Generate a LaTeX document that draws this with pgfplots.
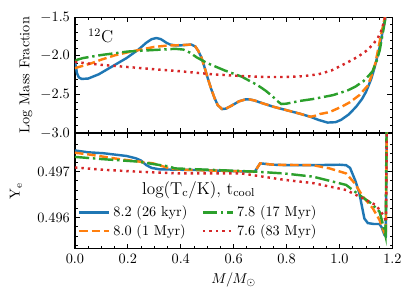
\documentclass[border=0pt]{standalone}
\usepackage{pgfplots}
\pgfplotsset{compat=1.18}
\definecolor{tabblue}{HTML}{1F77B4}
\definecolor{taborange}{HTML}{FF7F0E}
\definecolor{tabgreen}{HTML}{2CA02C}
\definecolor{tabred}{HTML}{D62728}
\pgfplotsset{
  s82/.style={tabblue, line width=1.7pt, solid},
  s80/.style={taborange, line width=1.7pt, dash pattern=on 6pt off 2.6pt},
  s78/.style={tabgreen, line width=1.7pt, dash pattern=on 10pt off 2.6pt on 1.7pt off 2.6pt},
  s76/.style={tabred, line width=1.7pt, dash pattern=on 1.7pt off 2.8pt},
  myax/.style={
    scale only axis, width=222pt, height=81pt,
    xmin=0, xmax=1.2,
    tick align=inside,
    xtick={0,0.2,0.4,0.6,0.8,1.0,1.2},
    minor xtick={0.05,0.1,0.15,0.25,0.3,0.35,0.45,0.5,0.55,0.65,0.7,0.75,0.85,0.9,0.95,1.05,1.1,1.15},
    major tick length=3.5pt, minor tick length=2pt,
    every tick/.style={black, line width=0.6pt},
    axis line style={line width=0.8pt},
    xticklabel style={/pgf/number format/fixed, /pgf/number format/fixed zerofill, /pgf/number format/precision=1},
    scaled x ticks=false, scaled y ticks=false,
    no markers,
  }
}
\begin{document}
\begin{tikzpicture}
\path[use as bounding box] (-52.4pt,-120.3pt) rectangle (238.5pt,93pt);
% ---------------- top panel
\begin{axis}[myax, at={(0pt,0pt)}, anchor=south west,
  ymin=-3, ymax=-1.5,
  ytick={-3,-2.5,-2,-1.5},
  minor ytick={-2.9,-2.8,-2.7,-2.6,-2.4,-2.3,-2.2,-2.1,-1.9,-1.8,-1.7,-1.6},
  xticklabels=\empty,
  yticklabel style={/pgf/number format/fixed, /pgf/number format/fixed zerofill, /pgf/number format/precision=1},
  ylabel={Log Mass Fraction},
  ylabel style={at={(axis description cs:-0.154,0.5)}, anchor=center},
]
\addplot[s82] coordinates {
(0.000,-2.08) (0.004,-2.15) (0.008,-2.23) (0.015,-2.28) (0.025,-2.30) (0.05,-2.295)
(0.09,-2.24) (0.14,-2.14) (0.195,-2.03) (0.24,-1.92) (0.27,-1.83) (0.29,-1.785)
(0.308,-1.77) (0.325,-1.785) (0.345,-1.83) (0.36,-1.855) (0.38,-1.865) (0.40,-1.865)
(0.42,-1.86) (0.44,-1.855) (0.455,-1.88) (0.465,-1.93) (0.478,-2.02) (0.49,-2.15)
(0.502,-2.29) (0.515,-2.43) (0.528,-2.55) (0.54,-2.64) (0.556,-2.69) (0.57,-2.685)
(0.59,-2.65) (0.62,-2.59) (0.645,-2.565) (0.66,-2.565) (0.68,-2.58) (0.70,-2.605)
(0.75,-2.66) (0.80,-2.705) (0.85,-2.75) (0.89,-2.79) (0.92,-2.83) (0.955,-2.865)
(0.985,-2.86) (1.006,-2.83) (1.035,-2.76) (1.063,-2.66) (1.085,-2.56) (1.10,-2.47)
(1.12,-2.30) (1.132,-2.16) (1.151,-1.90) (1.165,-1.65) (1.176,-1.45)
};
\addplot[s80] coordinates {
(0.000,-2.16) (0.03,-2.13) (0.06,-2.10) (0.10,-2.05) (0.15,-1.995) (0.20,-1.955)
(0.25,-1.92) (0.30,-1.885) (0.35,-1.868) (0.40,-1.862) (0.44,-1.855) (0.455,-1.88)
(0.465,-1.93) (0.478,-2.02) (0.49,-2.15) (0.502,-2.29) (0.515,-2.43) (0.528,-2.55)
(0.54,-2.64) (0.556,-2.69) (0.57,-2.685) (0.59,-2.65) (0.62,-2.59) (0.645,-2.565)
(0.66,-2.565) (0.68,-2.58) (0.70,-2.605) (0.75,-2.66) (0.80,-2.705) (0.85,-2.75)
(0.89,-2.79) (0.905,-2.78) (0.925,-2.755) (0.962,-2.73) (1.011,-2.655) (1.04,-2.60)
(1.075,-2.51) (1.106,-2.39) (1.12,-2.27) (1.136,-2.09) (1.16,-1.68) (1.175,-1.45)
};
\addplot[s78] coordinates {
(0.000,-2.07) (0.01,-2.05) (0.03,-2.03) (0.10,-1.99) (0.20,-1.945) (0.30,-1.925)
(0.38,-1.91) (0.41,-1.92) (0.435,-1.96) (0.46,-2.02) (0.50,-2.095) (0.566,-2.19)
(0.63,-2.27) (0.69,-2.38) (0.72,-2.45) (0.745,-2.52) (0.77,-2.60) (0.78,-2.625)
(0.80,-2.62) (0.85,-2.585) (0.90,-2.56) (0.975,-2.51) (1.03,-2.45) (1.06,-2.40)
(1.09,-2.33) (1.115,-2.24) (1.125,-2.20) (1.14,-2.07) (1.152,-1.93) (1.165,-1.68)
(1.177,-1.45)
};
\addplot[s76] coordinates {
(0.000,-2.08) (0.05,-2.10) (0.107,-2.12) (0.233,-2.155) (0.30,-2.175) (0.396,-2.20)
(0.52,-2.24) (0.64,-2.265) (0.72,-2.275) (0.79,-2.275) (0.86,-2.265) (0.92,-2.24)
(0.97,-2.19) (1.011,-2.12) (1.05,-2.05) (1.075,-2.00) (1.10,-1.94) (1.125,-1.86)
(1.145,-1.77) (1.16,-1.66) (1.175,-1.47) (1.18,-1.40)
};
\node[anchor=base west, inner sep=0pt] at (axis description cs:0.041,0.777) {\large$^{12}$C};
\end{axis}
% ---------------- bottom panel
\begin{axis}[myax, at={(0pt,0pt)}, anchor=north west,
  ymin=0.49532, ymax=0.49784,
  ytick={0.496,0.497},
  minor ytick={0.4954,0.4956,0.4958,0.4962,0.4964,0.4966,0.4968,0.4972,0.4974,0.4976},
  yticklabel style={/pgf/number format/fixed, /pgf/number format/fixed zerofill, /pgf/number format/precision=3},
  ylabel={Y$_\mathrm{e}$},
  ylabel style={at={(axis description cs:-0.186,0.5)}, anchor=center},
  xlabel={$M/M_\odot$},
  legend columns=2,
  legend cell align=left,
  legend style={draw=none, fill=none, at={(axis description cs:0.39,0.233)}, anchor=center,
    /tikz/every even column/.append style={column sep=8pt}, row sep=0pt},
  legend image code/.code={\draw[#1] (0pt,0pt) -- (21pt,0pt);},
]
\addplot[s82, forget plot] coordinates {
(0.000,0.49746) (0.05,0.49742) (0.107,0.49740) (0.195,0.49734) (0.23,0.49729)
(0.25,0.49724) (0.27,0.49714) (0.29,0.49708) (0.32,0.49705) (0.40,0.49704)
(0.50,0.49703) (0.60,0.49701) (0.68,0.49700) (0.70,0.49718) (0.75,0.49715)
(0.80,0.49714) (0.90,0.49714) (1.00,0.49715) (1.025,0.49714) (1.04,0.49708)
(1.06,0.49680) (1.075,0.49653) (1.094,0.49598) (1.107,0.49588) (1.13,0.49586)
(1.151,0.49586) (1.16,0.49578) (1.17,0.49562) (1.175,0.49560) (1.179,0.49800)
(1.182,0.49900)
};
\addplot[s80, forget plot] coordinates {
(0.000,0.49741) (0.044,0.49738) (0.17,0.49727) (0.295,0.49718) (0.358,0.49707)
(0.40,0.49704) (0.68,0.49700) (0.70,0.49718) (0.75,0.49715) (0.88,0.49714)
(0.90,0.49714) (0.962,0.49707) (1.025,0.49696) (1.057,0.49675) (1.088,0.49646)
(1.126,0.49620) (1.151,0.49595) (1.17,0.49566) (1.175,0.49560) (1.179,0.49800)
(1.182,0.49900)
};
\addplot[s78, forget plot] coordinates {
(0.000,0.49732) (0.107,0.49727) (0.233,0.49722) (0.358,0.49711) (0.377,0.49707)
(0.68,0.49700) (0.79,0.49696) (0.90,0.49689) (1.025,0.49671) (1.075,0.49649)
(1.12,0.49631) (1.151,0.49613) (1.16,0.49595) (1.174,0.49560) (1.178,0.49800)
(1.181,0.49900)
};
\addplot[s76, forget plot] coordinates {
(0.000,0.49709) (0.107,0.49704) (0.233,0.49700) (0.396,0.49696) (0.63,0.49696)
(0.792,0.49682) (0.90,0.49675) (1.025,0.49660) (1.088,0.49642) (1.138,0.49627)
(1.17,0.49602) (1.176,0.49590) (1.179,0.49800) (1.182,0.49900)
};
\addlegendimage{s82}\addlegendentry{8.2 (26 kyr)}
\addlegendimage{s78}\addlegendentry{7.8 (17 Myr)}
\addlegendimage{s80}\addlegendentry{8.0 (1 Myr)}
\addlegendimage{s76}\addlegendentry{7.6 (83 Myr)}
\node[anchor=center] at (axis description cs:0.39,0.51) {\large log(T$_\mathrm{c}$/K), t$_\mathrm{cool}$};
\end{axis}
\end{tikzpicture}
\end{document}
